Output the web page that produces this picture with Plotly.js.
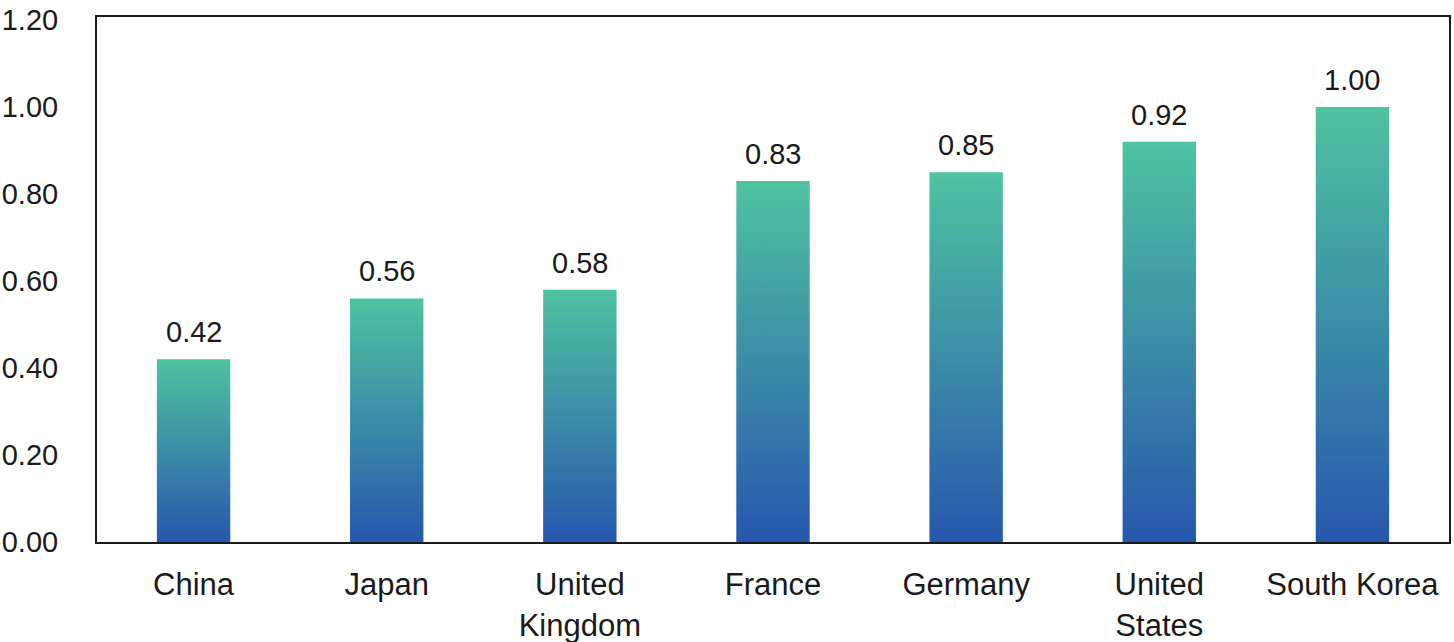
<!DOCTYPE html>
<html>
<head>
<meta charset="utf-8">
<script src="https://cdn.plot.ly/plotly-3.0.1.min.js"></script>
<style>
  html, body { margin: 0; padding: 0; background: #fff; }
  #chart { width: 1454px; height: 642px; }
</style>
</head>
<body>
<div id="chart"></div>
<script>
// --- Data ---
const countries = ['China', 'Japan', 'United<br>Kingdom', 'France', 'Germany', 'United<br>States', 'South Korea'];
const scores = [0.42, 0.56, 0.58, 0.83, 0.85, 0.92, 1.00];
const yTicks = [0, 0.2, 0.4, 0.6, 0.8, 1.0, 1.2];

// --- Style ---
const barHalf = 0.19;
const bottomColor = '#2757ad';
const topColor = '#4fc3a1';
const fontFamily = '"Liberation Sans", Arial, Helvetica, sans-serif';

// one filled shape per bar so every bar gets its own vertical gradient
const traces = scores.map((v, i) => ({
    type: 'scatter',
    mode: 'lines',
    x: [i - barHalf, i - barHalf, i + barHalf, i + barHalf, i - barHalf],
    y: [0, v, v, 0, 0],
    fill: 'toself',
    line: { width: 0 },
    fillgradient: {
        type: 'vertical',
        colorscale: [[0, bottomColor], [1, topColor]]
    },
    hoverinfo: 'skip',
    showlegend: false
}));

// value labels above the bars
const annotations = scores.map((v, i) => ({
    x: i,
    y: v,
    xref: 'x',
    yref: 'y',
    text: v.toFixed(2),
    showarrow: false,
    yanchor: 'bottom',
    yshift: 9,
    font: { family: fontFamily, size: 29, color: '#1a1a1a' }
}));

const layout = {
    width: 1454,
    height: 642,
    margin: { l: 97, r: 5, t: 17, b: 100 },
    paper_bgcolor: '#ffffff',
    plot_bgcolor: '#ffffff',
    font: { family: fontFamily, color: '#1a1a1a' },
    annotations: annotations,
    xaxis: {
        type: 'linear',
        range: [-0.5, countries.length - 0.5],
        tickvals: countries.map((_, i) => i),
        ticktext: countries,
        tickfont: { size: 31 },
        ticks: '',
        ticklabelstandoff: 14,
        showgrid: false,
        zeroline: false,
        showline: true,
        linecolor: '#1a1a1a',
        linewidth: 2,
        mirror: true,
        fixedrange: true
    },
    yaxis: {
        range: [0, 1.207],
        tickvals: yTicks,
        ticktext: yTicks.map(v => v.toFixed(2)),
        tickfont: { size: 29 },
        ticks: '',
        ticklabelstandoff: 31,
        showgrid: false,
        zeroline: false,
        showline: true,
        linecolor: '#1a1a1a',
        linewidth: 2,
        mirror: true,
        fixedrange: true
    }
};

Plotly.newPlot('chart', traces, layout, { displayModeBar: false, staticPlot: true });
</script>
</body>
</html>
